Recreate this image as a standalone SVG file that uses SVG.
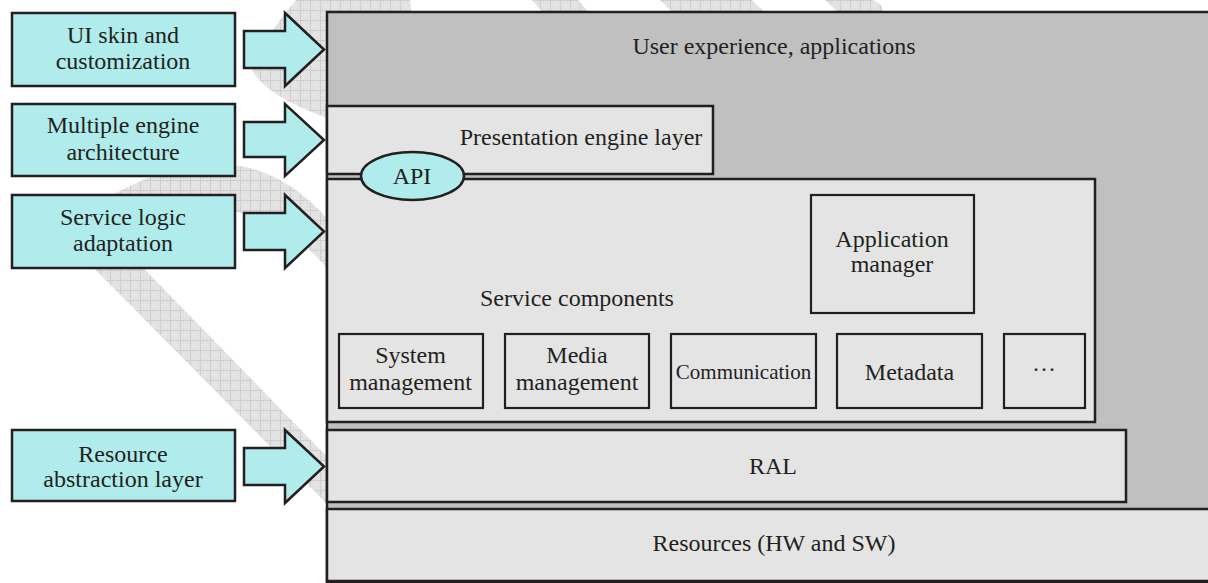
<svg xmlns="http://www.w3.org/2000/svg" width="1208" height="583" viewBox="0 0 1208 583">
<defs>
<pattern id="hatch" width="10" height="10" patternUnits="userSpaceOnUse">
<rect width="10" height="10" fill="#e4e4e4"/>
<path d="M0,0.5H10M0.5,0V10" stroke="#cdcdcd" stroke-width="1"/>
<path d="M0,5L5,0M5,10L10,5M0,5L5,10M5,0L10,5" stroke="#d9d9d9" stroke-width="0.6"/>
</pattern>
<style>
.t{font-family:"Liberation Serif","Times New Roman",serif;font-size:24px;fill:#231f20;text-anchor:middle}
.cy{fill:#b0ecec;stroke:#231f20;stroke-width:2.5}
.lg{fill:#e4e4e4;stroke:#231f20;stroke-width:2.5}
.in{fill:#e4e4e4;stroke:#231f20;stroke-width:2.2}
.band{fill:url(#hatch)}
</style>
</defs>
<rect width="1208" height="583" fill="#ffffff"/>
<g id="watermark">
<path class="band" d="M296,0 L410,0 L420,130 L327,118 Q265,95 252,70 Q262,40 296,0 Z"/>
<path class="band" d="M95,205 Q240,115 330,222 L330,272 Q240,160 100,250 Z"/>
<path class="band" d="M66,240 L116,240 L340,470 L340,517 Z"/>
<path class="band" d="M532,0 L578,0 L590,14 L544,14 Z"/>
<path class="band" d="M660,0 L752,0 L766,14 L674,14 Z"/>
<path class="band" d="M825,0 L872,0 Q885,4 882,14 L840,14 Z"/>
</g>
<g id="left-nodes">
<g id="ui-skin"><rect class="cy" x="12" y="13" width="223" height="73"/>
<text class="t" x="123" y="43">UI skin and</text><text class="t" x="123" y="69">customization</text>
<polygon class="cy" points="244,31 285,31 285,13 324,49.5 285,86 285,68 244,68"/></g>
<g id="multi-engine"><rect class="cy" x="12" y="104" width="223" height="72"/>
<text class="t" x="123" y="133">Multiple engine</text><text class="t" x="123" y="160">architecture</text>
<polygon class="cy" points="244,122 285,122 285,104 324,140 285,176 285,157 244,157"/></g>
<g id="service-logic"><rect class="cy" x="12" y="195" width="223" height="73"/>
<text class="t" x="123" y="225">Service logic</text><text class="t" x="123" y="251">adaptation</text>
<polygon class="cy" points="244,213 285,213 285,195 324,231.5 285,268 285,250 244,250"/></g>
<g id="resource-abstraction"><rect class="cy" x="12" y="430" width="223" height="71"/>
<text class="t" x="123" y="462">Resource</text><text class="t" x="123" y="487">abstraction layer</text>
<polygon class="cy" points="244,448 285,448 285,430 324,466.5 285,503 285,485 244,485"/></g>
</g>
<g id="user-experience"><rect x="327" y="12" width="900" height="570" fill="#c0c0c0" stroke="#231f20" stroke-width="2.5"/>
<text class="t" x="774" y="54">User experience, applications</text></g>
<g id="presentation"><rect class="lg" x="327" y="106" width="386" height="68"/>
<text class="t" x="581" y="145">Presentation engine layer</text></g>
<g id="service-components"><rect class="lg" x="327" y="179" width="768" height="243"/>
<text class="t" x="577" y="306">Service components</text></g>
<g id="api"><ellipse class="cy" cx="412.5" cy="176" rx="51.5" ry="24"/>
<text class="t" x="412" y="184">API</text></g>
<g id="app-manager"><rect class="in" x="811" y="195" width="163" height="118"/>
<text class="t" x="892" y="247">Application</text><text class="t" x="892" y="272">manager</text></g>
<g id="system-mgmt"><rect class="in" x="339" y="334" width="144" height="74"/>
<text class="t" x="410.5" y="363">System</text><text class="t" x="410.5" y="390">management</text></g>
<g id="media-mgmt"><rect class="in" x="505" y="334" width="144" height="74"/>
<text class="t" x="577" y="363">Media</text><text class="t" x="577" y="390">management</text></g>
<g id="communication"><rect class="in" x="671" y="334" width="145" height="74"/>
<text class="t" x="743.5" y="379" style="font-size:21px">Communication</text></g>
<g id="metadata"><rect class="in" x="837" y="334" width="145" height="74"/>
<text class="t" x="909.5" y="380">Metadata</text></g>
<g id="more"><rect class="in" x="1004" y="334" width="81" height="74"/>
<text class="t" x="1044" y="377">···</text></g>
<g id="ral"><rect class="lg" x="327" y="430" width="799" height="72"/>
<text class="t" x="773" y="474">RAL</text></g>
<g id="resources"><rect class="lg" x="327" y="509" width="900" height="72"/>
<text class="t" x="774" y="551">Resources (HW and SW)</text></g>
<g id="connectors"></g>
</svg>
